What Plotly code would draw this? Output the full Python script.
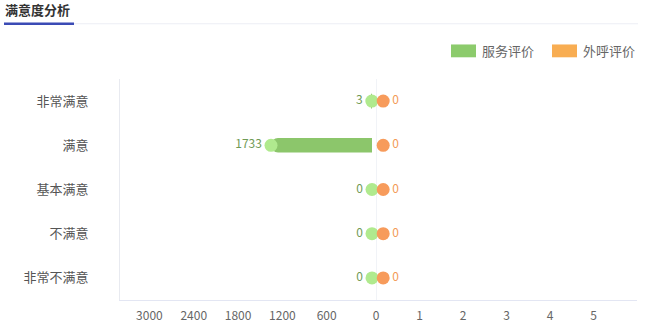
import plotly.graph_objects as go

categories = ["非常满意", "满意", "基本满意", "不满意", "非常不满意"]
service_values = [3, 1733, 0, 0, 0]
call_values = [0, 0, 0, 0, 0]
left_ticks = [3000, 2400, 1800, 1200, 600]
right_ticks = [0, 1, 2, 3, 4, 5]
series_names = ["服务评价", "外呼评价"]

FONT = "Noto Sans CJK SC, Microsoft YaHei, sans-serif"
W, H = 648, 334
L, R, T, B = 120, 11, 79, 31
PW = W - L - R
PH = H - T - B
split = 256 / PW

def px(x):
    return (x - L) / PW

def py(y):
    return (H - B - y) / PH

fig = go.Figure()

# green bars (left)
fig.add_trace(go.Bar(
    y=categories, x=service_values, orientation="h", xaxis="x3", yaxis="y",
    width=0.33, marker=dict(color="#8cc66b", cornerradius="50%", line=dict(width=0)),
    hoverinfo="skip", showlegend=False,
))
# orange bars (right)
fig.add_trace(go.Bar(
    y=categories, x=call_values, orientation="h", xaxis="x4", yaxis="y",
    width=0.33, marker=dict(color="#f7a45a", cornerradius="50%", line=dict(width=0)),
    hoverinfo="skip", showlegend=False,
))
# green end dots + labels
fig.add_trace(go.Scatter(
    y=categories, x=service_values, xaxis="x3", yaxis="y", mode="markers+text",
    marker=dict(size=13, color="#b0ea8e", line=dict(width=0)),
    text=[str(v) for v in service_values], textposition="middle left",
    textfont=dict(family=FONT, size=12, color="#6f9a55"),
    showlegend=False, cliponaxis=False,
))
# orange end dots + labels
fig.add_trace(go.Scatter(
    y=categories, x=call_values, xaxis="x4", yaxis="y", mode="markers+text",
    marker=dict(size=13, color="#f79b5b", line=dict(width=0)),
    text=[str(v) for v in call_values], textposition="middle right",
    textfont=dict(family=FONT, size=12, color="#f39a55"),
    showlegend=False, cliponaxis=False,
))
# invisible anchors so the visible axes get their subplots drawn
fig.add_trace(go.Scatter(y=categories, x=[0] * len(categories), xaxis="x", yaxis="y",
                         mode="markers", marker=dict(opacity=0), hoverinfo="skip", showlegend=False))
fig.add_trace(go.Scatter(y=categories, x=[0] * len(categories), xaxis="x2", yaxis="y",
                         mode="markers", marker=dict(opacity=0), hoverinfo="skip", showlegend=False))

tickfont = dict(family=FONT, size=12, color="#666666")

fig.update_layout(
    width=W, height=H,
    margin=dict(l=L, r=R, t=T, b=B),
    plot_bgcolor="rgba(0,0,0,0)", paper_bgcolor="white",
    barmode="overlay",
    font=dict(family=FONT),
    xaxis=dict(domain=[0, split], range=[3466, 0], tickmode="array", tickvals=left_ticks,
               ticktext=[str(v) for v in left_ticks], showgrid=False, zeroline=False,
               showline=True, linecolor="#e3e6f3", linewidth=1, ticks="",
               tickfont=tickfont, ticklabelstandoff=5, ticklabelshift=5,
               anchor="y", fixedrange=True),
    xaxis2=dict(domain=[split, 1], range=[0, 6], tickmode="array", tickvals=right_ticks,
                ticktext=[str(v) for v in right_ticks], showgrid=False, zeroline=False,
                showline=True, linecolor="#e3e6f3", linewidth=1, ticks="",
                tickfont=tickfont, ticklabelstandoff=5, anchor="y", fixedrange=True),
    xaxis3=dict(domain=[0, split], range=[4324, -68.6], visible=False, anchor="y", fixedrange=True),
    xaxis4=dict(domain=[split, 1], range=[-0.17, 6], visible=False, anchor="y", fixedrange=True),
    yaxis=dict(type="category", categoryorder="array", categoryarray=categories,
               autorange="reversed", showgrid=False, zeroline=False,
               showline=True, linecolor="#e8eaf0", linewidth=1, ticks="",
               tickfont=dict(family=FONT, size=13, color="#555555"),
               ticklabelstandoff=28, anchor="x", fixedrange=True),
    showlegend=False,
)

shapes = [
    # center vertical line
    dict(type="line", xref="x2", yref="y domain", x0=0, x1=0, y0=0, y1=1,
         line=dict(color="#e3e8f0", width=1), layer="below"),
    # title underline (gray full + blue accent)
    dict(type="line", xref="paper", yref="paper", x0=px(74), x1=px(638), y0=py(23), y1=py(23),
         line=dict(color="#eceef5", width=1)),
    dict(type="line", xref="paper", yref="paper", x0=px(4), x1=px(74), y0=py(23), y1=py(23),
         line=dict(color="#3b4bb5", width=2.5)),
    # legend swatches
    dict(type="rect", xref="paper", yref="paper", x0=px(451), x1=px(476), y0=py(57), y1=py(44),
         fillcolor="#8ccb6c", line=dict(width=0)),
    dict(type="rect", xref="paper", yref="paper", x0=px(552), x1=px(577), y0=py(57), y1=py(44),
         fillcolor="#f8ad52", line=dict(width=0)),
]

annotations = [
    dict(text="<b>满意度分析</b>", xref="paper", yref="paper", x=px(3), y=py(9),
         xanchor="left", yanchor="middle", showarrow=False,
         font=dict(family=FONT, size=13, color="#333333")),
    dict(text=series_names[0], xref="paper", yref="paper", x=px(480), y=py(50.5),
         xanchor="left", yanchor="middle", showarrow=False,
         font=dict(family=FONT, size=13, color="#666666")),
    dict(text=series_names[1], xref="paper", yref="paper", x=px(581), y=py(50.5),
         xanchor="left", yanchor="middle", showarrow=False,
         font=dict(family=FONT, size=13, color="#666666")),
]

fig.update_layout(shapes=shapes, annotations=annotations)

fig.write_html("out.html")
